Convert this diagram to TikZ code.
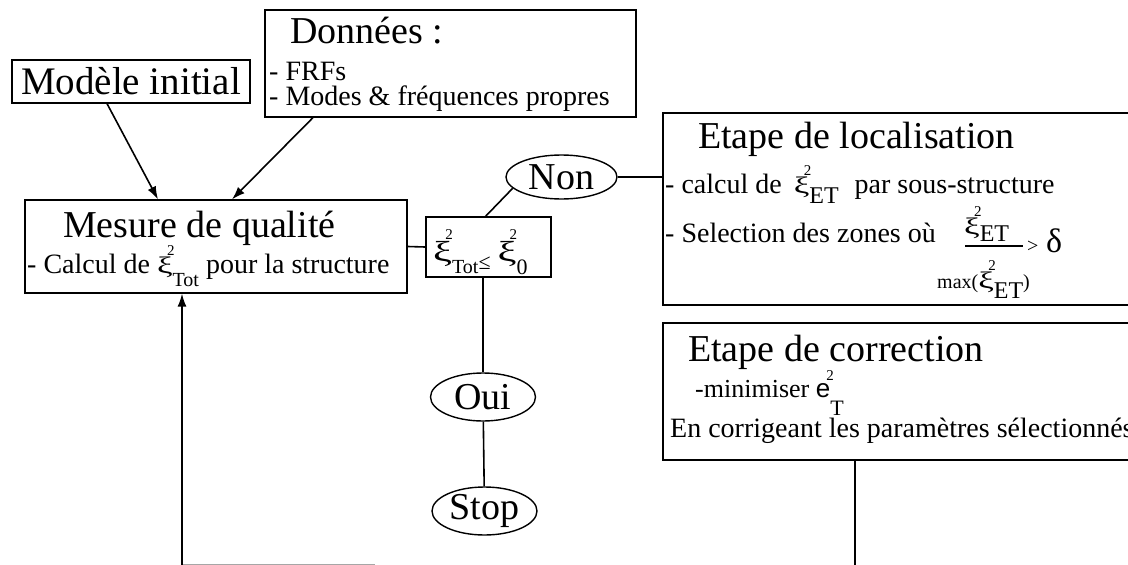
\documentclass[tikz,border=0pt]{standalone}
\usepackage{fontspec}
\setmainfont{Liberation Serif}
\newfontfamily\sansfam{Liberation Sans}
\usetikzlibrary{shapes.geometric,arrows.meta}
\newcommand{\grand}{\fontsize{38}{40}\selectfont}
\newcommand{\moyen}{\fontsize{28}{25}\selectfont}
\newcommand{\petit}{\fontsize{20}{20}\selectfont}
\newcommand{\carre}[4]{\scalebox{1.25}[0.85]{#1}\rlap{\hspace{-0.2em}\raisebox{0.64em}{\fontsize{15}{15}\selectfont 2}}\raisebox{-#4pt}{\fontsize{#3}{#3}\selectfont #2}}
\begin{document}
\begin{tikzpicture}[x=1pt,y=-1pt,
  boite/.style={draw,line width=1.2pt,inner sep=0pt},
  bulle/.style={draw,ellipse,line width=1.4pt,inner sep=0pt,font=\grand},
  texte/.style={anchor=base west,inner sep=0pt},
  lien/.style={line width=1.6pt},
  fleche/.style={line width=1.6pt,-{Latex[length=13pt,width=9pt]}}]
\useasboundingbox (0,0) rectangle (1128,565);
\clip (0,0) rectangle (1128,565);
\node[boite,minimum width=238pt,minimum height=43pt,font=\fontsize{39}{40}\selectfont] (modele) at (131,81.5) {Modèle initial};
\node[boite,minimum width=371pt,minimum height=107pt] (donnees) at (450.5,63.5) {};
\node[boite,minimum width=382pt,minimum height=93pt] (mesure) at (216,246.5) {};
\node[boite,minimum width=125pt,minimum height=60pt] (cond) at (488.5,247) {};
\node[boite,minimum width=480pt,minimum height=192pt] (loc) at (903,209) {};
\node[boite,minimum width=480pt,minimum height=137pt] (correc) at (903,391.5) {};
\node[bulle,minimum width=111pt,minimum height=44pt] (non) at (561.5,177) {Non};
\node[bulle,minimum width=105pt,minimum height=48pt] (oui) at (483,397) {Oui};
\node[bulle,minimum width=105pt,minimum height=48pt] (stop) at (484.5,511) {Stop};
\node[texte,font=\grand] (titredonnees) at (290,43) {Données :};
\node[texte,font=\moyen] (frf) at (269,80) {- FRFs};
\node[texte,font=\moyen] (modes) at (269,105) {- Modes \& fréquences propres};
\node[texte,font=\grand] (titremesure) at (63,237) {Mesure de qualité};
\node[texte,font=\moyen] (calcul) at (27,273) {- Calcul de \carre{ξ}{Tot}{20}{13} pour la structure};
\node[texte,font=\fontsize{34}{34}\selectfont] (condtxt) at (433,261) {\carre{ξ}{Tot}{20}{12}\raisebox{-8pt}{\fontsize{22}{22}\selectfont ≤}\hspace{7pt}\carre{ξ}{0}{22}{13}};
\node[texte,font=\grand] (titreloc) at (698,148) {Etape de localisation};
\node[texte,font=\moyen] (sousstruct) at (665,193) {- calcul de\hspace{12pt}\carre{ξ}{ET}{24}{10}\hspace{16pt}par sous-structure};
\node[texte,font=\moyen] (selection) at (665,242) {- Selection des zones où};
\node[texte,font=\moyen] (num) at (964,234) {\carre{ξ}{ET}{24}{7}};
\draw[line width=1.2pt] (965,246) -- (1023,246);
\node[texte,font=\moyen] (den) at (937,288) {{\petit max(}\carre{ξ}{ET}{24}{10}{\petit )}};
\node[texte,font=\petit] (plusgrand) at (1027,252) {>};
\node[texte,font=\fontsize{34}{34}\selectfont] (delta) at (1046,252) {δ};
\node[texte,font=\grand] (titrecorr) at (688,361) {Etape de correction};
\node[texte,font=\fontsize{26}{26}\selectfont] (minimiser) at (695,397) {-minimiser {\sansfam e}\rlap{\hspace{-0.15em}\raisebox{17pt}{\fontsize{15}{15}\selectfont 2}}\raisebox{-18pt}{\fontsize{22}{22}\selectfont T}};
\node[texte,font=\moyen] (corriger) at (670,437) {En corrigeant les paramètres sélectionnés};
\coordinate (coin) at (182,565);
\coordinate (bas) at (375,565);
\coordinate (fin) at (855,565);
\draw[fleche] ([xshift=-24pt]modele.south) -- ([xshift=-58pt]mesure.north);
\draw[fleche] ([xshift=-137.5pt]donnees.south) -- ([xshift=16pt]mesure.north);
\draw[lien] (mesure.east) -- (cond.west);
\draw[lien] ([xshift=-3pt]cond.north) -- (non.193);
\draw[lien] (non.east) -- (non.east -| loc.west);
\draw[lien] (cond.south -| oui.north) -- (oui.north);
\draw[lien] (oui) -- (stop);
\draw[lien] (correc.south -| fin) -- (fin);
\draw[lien,gray!70] (coin) -- (bas);
\draw[fleche] (coin) -- (coin |- mesure.south);
\end{tikzpicture}
\end{document}
